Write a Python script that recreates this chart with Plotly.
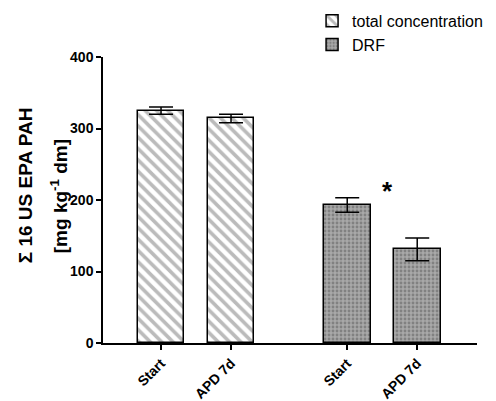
import plotly.graph_objects as go

# Data
series_names = ["total concentration", "DRF"]
categories = ["Start", "APD 7d"]
total_vals = [325, 314]
total_err = [5, 6]
drf_vals = [193, 131]
drf_err = [10, 16]
y_ticks = [0, 100, 200, 300, 400]
y_title_lines = ["Σ 16 US EPA PAH", "[mg kg<sup>-1</sup> dm]"]

GROUP_GAP = 2.66
BAR_W = 0.67

def positions(group):
    return [group * GROUP_GAP + i for i in range(len(categories))]

fig = go.Figure()
fig.add_trace(go.Bar(
    x=positions(0), y=total_vals, name=series_names[0], width=BAR_W,
    marker=dict(color="white", line=dict(color="black", width=1.5),
                pattern=dict(shape="\\", fgcolor="#787878", bgcolor="white", size=8, solidity=0.45)),
    error_y=dict(type="data", array=total_err, color="black", thickness=1.5, width=12),
))
fig.add_trace(go.Bar(
    x=positions(1), y=drf_vals, name=series_names[1], width=BAR_W,
    marker=dict(color="#a0a0a0", line=dict(color="black", width=1.5),
                pattern=dict(shape=".", fgcolor="#5a5a5a", bgcolor="#a8a8a8", size=4, solidity=0.4)),
    error_y=dict(type="data", array=drf_err, color="black", thickness=1.5, width=12),
))

tickvals = positions(0) + positions(1)
ticktext = categories + categories

fig.add_annotation(x=positions(1)[0] + 0.57, y=drf_vals[0] + 20, text="<b>*</b>",
                   showarrow=False, font=dict(size=26, color="black"))

# two-line y-axis title
for txt, xp, yp in zip(y_title_lines, [-0.207, -0.119], [0.55, 0.515]):
    fig.add_annotation(xref="paper", yref="paper", x=xp, y=yp, text=f"<b>{txt}</b>",
                       xanchor="center", yanchor="middle",
                       textangle=-90, showarrow=False, font=dict(size=19, color="black"))

fig.update_layout(
    width=496, height=401,
    margin=dict(l=95, r=27, t=49, b=66, autoexpand=False),
    paper_bgcolor="white", plot_bgcolor="white",
    font=dict(family="Liberation Sans, Arial, sans-serif", color="black"),
    showlegend=True,
    legend=dict(x=0.559, y=1.186, xanchor="left", yanchor="top", xref="paper", yref="paper",
                font=dict(size=16), tracegroupgap=0, bgcolor="rgba(0,0,0,0)"),
    bargap=0,
    xaxis=dict(range=[-0.829, 4.514], tickvals=tickvals, ticktext=[f"<b>{t}</b>" for t in ticktext],
               tickangle=-45, ticks="outside", ticklen=5, tickwidth=1.5, tickcolor="black",
               showline=True, linecolor="black", linewidth=1.5, showgrid=False, zeroline=False,
               tickfont=dict(size=14)),
    yaxis=dict(range=[0, 400], tickvals=y_ticks, ticktext=[f"<b>{t}</b>" for t in y_ticks],
               ticks="outside", ticklen=5, tickwidth=1.5, tickcolor="black",
               showline=True, linecolor="black", linewidth=1.5, showgrid=False, zeroline=False,
               tickfont=dict(size=14)),
)

fig.write_html("out.html")
